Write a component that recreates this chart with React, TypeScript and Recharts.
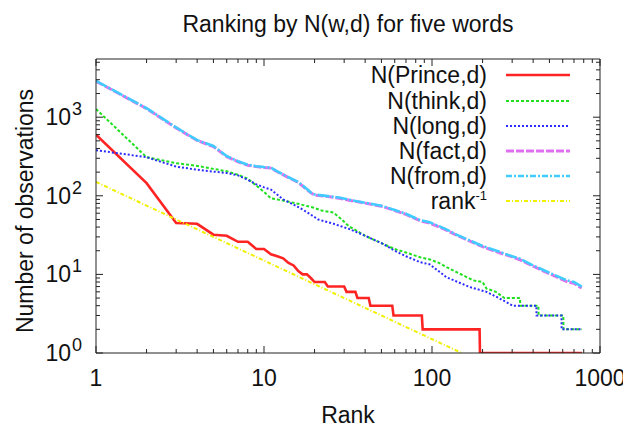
import React from 'react';
import { LineChart, Line, XAxis, YAxis, Legend } from 'recharts';

// ---- data: [rank, number of observations] ----
const princeData: number[][] = [
  [1, 600], [2, 145], [3, 45], [4, 44], [5, 32], [6, 31], [7, 26], [8, 26], [9, 21], [10, 21],
  [11, 18], [12, 17], [13, 16], [14, 14], [15, 13], [16, 11], [17, 10], [18, 10], [19, 9], [20, 8],
  [23, 8], [24, 7], [30, 7], [31, 6], [35, 6], [36, 5], [42, 5], [43, 4], [58, 4], [59, 3],
  [87, 3], [88, 2], [192, 2], [193, 1], [780, 1],
];
const thinkData: number[][] = [
  [1, 1270], [2, 310], [3, 260], [4, 240], [5, 220], [6, 205], [7, 185], [8, 165], [9, 135], [10, 112],
  [11, 93], [13, 87], [16, 79], [20, 70], [22, 65], [26, 61], [29, 50], [32, 41], [40, 31], [51, 24.5],
  [60, 21], [70, 19], [85, 16.5], [97, 15.5], [110, 14], [122, 12.4], [140, 10.7], [176, 8.4], [200, 8],
  [211, 6.6], [240, 6], [270, 5], [334, 5], [335, 4], [430, 4], [431, 3], [605, 3], [606, 2], [778, 2],
];
const longData: number[][] = [
  [1, 380], [2, 310], [3, 235], [4, 215], [5, 203], [6, 195], [7, 182], [8, 160], [9, 140], [10, 128],
  [11, 120], [13, 90], [16, 72], [18, 62], [21, 50], [26, 44], [32, 38], [40, 31], [51, 24.5], [60, 20],
  [70, 17], [85, 14.3], [97, 13.4], [122, 9.2], [168, 6.9], [211, 6], [250, 5], [302, 4], [418, 4],
  [419, 3], [590, 3], [591, 2], [778, 2],
];
const factData: number[][] = [
  [1, 2870], [2, 1285], [3, 730], [4, 505], [5, 422], [6, 315], [7, 271], [8, 245], [9, 235], [10, 229],
  [11, 225], [12, 202], [14, 170], [16, 148], [18, 120], [19, 109], [20, 102], [24, 98], [28, 93], [35, 85],
  [42, 79], [51, 73], [60, 65], [70, 58], [85, 48], [97, 45], [120, 37], [140, 31.5], [168, 26.5], [200, 22.5],
  [250, 19], [300, 16.7], [334, 15.3], [400, 12.7], [500, 10.2], [634, 8.1], [700, 7.7], [778, 6.7],
];
const fromData: number[][] = [
  [1, 2900], [2, 1300], [3, 740], [4, 510], [5, 430], [6, 320], [7, 275], [8, 248], [9, 238], [10, 232],
  [11, 228], [12, 205], [14, 172], [16, 150], [18, 122], [19, 110], [20, 104], [24, 99], [28, 95], [35, 86],
  [42, 80], [51, 74], [60, 66], [70, 59], [85, 49], [97, 46], [120, 38], [140, 32], [168, 27], [200, 23],
  [250, 19.5], [300, 17], [334, 15.8], [400, 13], [500, 10.5], [634, 8.4], [700, 8], [778, 7],
];
const rankInvData: number[][] = [
  [1, 150], [150, 1],
];

const xTicks = [1, 2, 3, 4, 5, 6, 7, 8, 9, 10, 20, 30, 40, 50, 60, 70, 80, 90, 100, 200, 300, 400, 500, 600, 700, 800, 900, 1000];
const yTicks = [1, 2, 3, 4, 5, 6, 7, 8, 9, 10, 20, 30, 40, 50, 60, 70, 80, 90, 100, 200, 300, 400, 500, 600, 700, 800, 900, 1000, 2000, 3000, 4000, 5000];
const xDomain = [1, 1000];
const yDomain = [1, 5500];

const FONT = '"Liberation Sans", Arial, Helvetica, sans-serif';
const FS = 23;

const toRows = (d: number[][]) => d.map(([rank, v]) => ({ rank, v }));

const series = [
  { key: 'prince', name: 'N(Prince,d)', data: toRows(princeData), color: '#ff2424', width: 2.6, dash: undefined as string | undefined },
  { key: 'think', name: 'N(think,d)', data: toRows(thinkData), color: '#1ee01e', width: 2, dash: '3 2' },
  { key: 'long', name: 'N(long,d)', data: toRows(longData), color: '#2c2cff', width: 2, dash: '2 2' },
  { key: 'fact', name: 'N(fact,d)', data: toRows(factData), color: '#e070f0', width: 3, dash: '8 2' },
  { key: 'from', name: 'N(from,d)', data: toRows(fromData), color: '#40ccff', width: 2.6, dash: '12 2 2 2' },
  { key: 'rank', name: 'rank', data: toRows(rankInvData), color: '#f0f000', width: 2, dash: '4 2 1 2' },
];

const isMajor = (v: number) => Math.abs(Math.log10(v) - Math.round(Math.log10(v))) < 1e-6;
const MAJ = 7;
const MIN = 4;

const BottomTick = (props: any) => {
  const { x, y, payload } = props;
  const v = payload.value;
  const major = isMajor(v);
  return (
    <g>
      <line x1={x} x2={x} y1={y} y2={y - (major ? MAJ : MIN)} stroke="#222" strokeWidth={1} />
      {major && (
        <text x={x} y={y + 33} textAnchor="middle" fontSize={FS} fontFamily={FONT} fill="#111">
          {v}
        </text>
      )}
    </g>
  );
};

const TopTick = (props: any) => {
  const { x, y, payload } = props;
  const major = isMajor(payload.value);
  return <line x1={x} x2={x} y1={y} y2={y + (major ? MAJ : MIN)} stroke="#222" strokeWidth={1} />;
};

const LeftTick = (props: any) => {
  const { x, y, payload } = props;
  const v = payload.value;
  const major = isMajor(v);
  const exp = Math.round(Math.log10(v));
  return (
    <g>
      <line x1={x} x2={x + (major ? MAJ : MIN)} y1={y} y2={y} stroke="#222" strokeWidth={1} />
      {major && (
        <text x={x - 14} y={y + 8} textAnchor="end" fontSize={FS} fontFamily={FONT} fill="#111">
          <tspan>10</tspan>
          <tspan dy={-10} dx={1} fontSize={18}>{exp}</tspan>
        </text>
      )}
    </g>
  );
};

const RightTick = (props: any) => {
  const { x, y, payload } = props;
  const major = isMajor(payload.value);
  return <line x1={x} x2={x - (major ? MAJ : MIN)} y1={y} y2={y} stroke="#222" strokeWidth={1} />;
};

const LegendBox = () => {
  const rowY = [15, 41, 66, 91, 116, 141];
  return (
    <svg width={260} height={160} style={{ display: 'block', overflow: 'visible' }}>
      {series.map((s, i) => (
        <g key={s.key}>
          <text x={157} y={rowY[i]} dy="0.36em" textAnchor="end" fontSize={FS} fontFamily={FONT} fill="#111">
            {s.key === 'rank' ? (
              <>
                <tspan>rank</tspan>
                <tspan dy={-9} fontSize={13}>-1</tspan>
              </>
            ) : (
              s.name
            )}
          </text>
          <line
            x1={176}
            x2={240}
            y1={rowY[i]}
            y2={rowY[i]}
            stroke={s.color}
            strokeWidth={s.width}
            strokeDasharray={s.key === 'from' ? '6 2 2 2' : s.dash}
          />
        </g>
      ))}
    </svg>
  );
};

export default function App() {
  return (
    <div style={{ position: 'relative', width: 623, height: 420 }}>
      <LineChart width={623} height={420} margin={{ top: 50, right: 30, bottom: 74, left: 87 }}>
        <XAxis
          xAxisId="b"
          dataKey="rank"
          type="number"
          scale="log"
          domain={xDomain}
          allowDataOverflow
          ticks={xTicks}
          interval={0}
          height={1}
          tickSize={0}
          tickMargin={0}
          tickLine={false}
          tick={<BottomTick />}
          axisLine={{ stroke: '#222' }}
        />
        <XAxis
          xAxisId="t"
          orientation="top"
          dataKey="rank"
          type="number"
          scale="log"
          domain={xDomain}
          allowDataOverflow
          ticks={xTicks}
          interval={0}
          height={1}
          tickSize={0}
          tickMargin={0}
          tickLine={false}
          tick={<TopTick />}
          axisLine={{ stroke: '#222' }}
        />
        <YAxis
          yAxisId="l"
          type="number"
          scale="log"
          domain={yDomain}
          allowDataOverflow
          ticks={yTicks}
          interval={0}
          width={1}
          tickSize={0}
          tickMargin={0}
          tickLine={false}
          tick={<LeftTick />}
          axisLine={{ stroke: '#222' }}
        />
        <YAxis
          yAxisId="r"
          orientation="right"
          type="number"
          scale="log"
          domain={yDomain}
          allowDataOverflow
          ticks={yTicks}
          interval={0}
          width={1}
          tickSize={0}
          tickMargin={0}
          tickLine={false}
          tick={<RightTick />}
          axisLine={{ stroke: '#222' }}
        />
        {series.map((s) => (
          <Line
            key={s.key}
            xAxisId="b"
            yAxisId="l"
            data={s.data}
            dataKey="v"
            name={s.name}
            type="linear"
            stroke={s.color}
            strokeWidth={s.width}
            strokeDasharray={s.dash}
            dot={false}
            activeDot={false}
            isAnimationActive={false}
          />
        ))}
        <Legend
          layout="horizontal"
          verticalAlign="middle"
          align="center"
          content={() => <LegendBox />}
          wrapperStyle={{ left: 322, top: 52, width: 260, height: 160 }}
        />
      </LineChart>
      <svg
        width={623}
        height={420}
        style={{ position: 'absolute', left: 0, top: 0, pointerEvents: 'none', overflow: 'visible' }}
      >
        <text x={340} y={24} textAnchor="middle" fontSize={FS} fontFamily={FONT} fill="#111">
          Ranking by N(w,d) for five words
        </text>
        <text x={340} y={415} textAnchor="middle" fontSize={FS} fontFamily={FONT} fill="#111">
          Rank
        </text>
        <text
          x={25}
          y={203}
          textAnchor="middle"
          fontSize={FS}
          fontFamily={FONT}
          fill="#111"
          transform="rotate(-90 25 203)"
        >
          Number of observations
        </text>
      </svg>
    </div>
  );
}
